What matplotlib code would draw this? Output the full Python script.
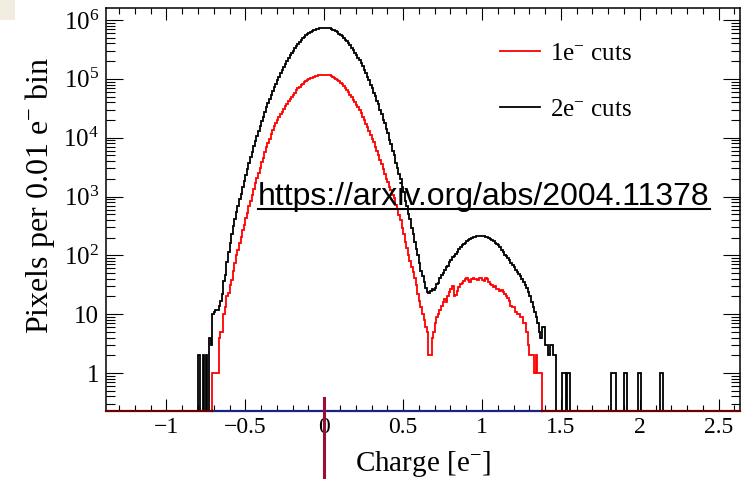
import numpy as np
import matplotlib
matplotlib.use("Agg")
import matplotlib.pyplot as plt
from matplotlib.lines import Line2D
from matplotlib.patches import Rectangle
from matplotlib.ticker import FixedLocator, MultipleLocator, LogLocator, NullFormatter

plt.rcParams["font.family"] = ["Liberation Serif", "DejaVu Serif"]
plt.rcParams["mathtext.fontset"] = "custom"
plt.rcParams["mathtext.rm"] = "Liberation Serif"
plt.rcParams["mathtext.it"] = "Liberation Serif:italic"

# histogram data: counts per 0.01 e- bin,
# one row = ten bins = 0.1 e-
BIN = 0.01
red_start = -0.80
red_counts = [
    0, 0, 0, 0, 0, 0, 0, 0, 0, 1,
    1, 1, 1, 4, 5, 5, 10, 13, 20, 23,
    31, 38, 55, 75, 100, 125, 165, 205, 270, 330,
    430, 530, 680, 840, 1080, 1320, 1680, 2050, 2550, 3100,
    3800, 4600, 5700, 6900, 8200, 9600, 11500, 13300, 15600, 17700,
    20300, 22600, 25100, 27600, 31000, 33900, 38000, 41700, 46000, 50000,
    54000, 58500, 63500, 68800, 73500, 78300, 83000, 87300, 91400, 95300,
    98700, 101500, 105000, 108500, 111000, 113000, 114500, 115800, 116600, 117000,
    117000, 116500, 115500, 114000, 111500, 108500, 104500, 99500, 95500, 91000,
    85800, 80500, 75000, 69800, 64300, 59000, 53800, 48800, 44500, 40800,
    36400, 33000, 29000, 26000, 22800, 20000, 17400, 15000, 13000, 11000,
    9500, 8300, 7000, 6000, 5000, 4200, 3500, 2900, 2400, 2000,
    1750, 1450, 1280, 1070, 950, 720, 620, 490, 400, 290,
    230, 170, 135, 100, 80, 63, 52, 41, 31, 22,
    17, 13, 10, 8, 6, 5, 2, 2, 4, 5,
    7, 9, 10, 12, 14, 16, 18, 16, 20, 24,
    27, 30, 20, 21, 25, 29, 32, 34, 36, 40,
    42, 38, 35, 39, 41, 39, 40, 38, 41, 42,
    38, 37, 41, 39, 35, 32, 31, 29, 30, 27,
    27, 25, 26, 24, 22, 20, 19, 17, 14, 13,
    13, 11, 10, 10, 9, 9, 7, 7, 5, 3,
    2, 2, 2, 1, 2, 1, 1, 1, 0, 0,
]
black_start = -0.90
black_counts = [
    0, 0, 0, 0, 0, 0, 0, 0, 0, 0,
    2, 0, 0, 2, 0, 2, 0, 4, 3, 10,
    11, 12, 12, 14, 17, 22, 36, 46, 78, 115,
    165, 230, 310, 410, 540, 700, 900, 1120, 1450, 1850,
    2350, 2950, 3700, 4650, 5800, 7100, 8800, 10700, 13000, 15900,
    19000, 22800, 27200, 33000, 38500, 45000, 52500, 62000, 72000, 83000,
    95000, 109000, 126000, 144000, 161000, 179000, 203000, 225000, 252000, 274000,
    302000, 330000, 366000, 394000, 424000, 450000, 487000, 515000, 548000, 576000,
    605000, 629000, 650000, 672000, 686000, 698000, 716000, 732000, 738000, 744000,
    744000, 738000, 728000, 720000, 698000, 686000, 672000, 650000, 618000, 588000,
    565000, 535000, 497000, 461000, 432000, 402000, 370000, 340000, 310000, 280000,
    255000, 225000, 207000, 183000, 163000, 140000, 126000, 108000, 95000, 79000,
    71000, 58000, 52000, 41500, 37000, 29000, 25500, 20000, 17500, 14000,
    12000, 9000, 7900, 5900, 5000, 3700, 3100, 2400, 1950, 1450,
    1200, 840, 700, 500, 410, 290, 230, 170, 130, 100,
    75, 55, 45, 35, 28, 24, 23, 25, 27, 26,
    28, 33, 34, 41, 46, 50, 57, 63, 67, 77,
    84, 92, 98, 106, 116, 128, 137, 147, 154, 162,
    173, 183, 188, 196, 201, 209, 210, 214, 217, 215,
    213, 211, 208, 204, 196, 188, 181, 175, 164, 156,
    147, 137, 124, 116, 103, 97, 89, 83, 75, 69,
    63, 57, 52, 48, 44, 40, 35, 31, 28, 24,
    20, 16, 13, 11, 9, 7, 5, 4, 6, 6,
    3, 3, 2, 3, 3, 2, 2, 0, 0, 0,
    0, 1, 1, 0, 1, 1, 0, 0, 0, 0,
]
# isolated entries at high charge (black)
spike_edges = [1.82, 1.85, 1.90, 1.92, 1.99, 2.01, 2.13, 2.15]
spike_counts = [1, 0, 1, 0, 1, 0, 1]

xticks = [-1, -0.5, 0, 0.5, 1, 1.5, 2, 2.5]
xtick_labels = ["\u22121", "\u22120.5", "0", "0.5", "1", "1.5", "2", "2.5"]
yticks = [1, 10, 1e2, 1e3, 1e4, 1e5, 1e6]
ytick_labels = ["1", "10", r"$10^{2}$", r"$10^{3}$", r"$10^{4}$", r"$10^{5}$", r"$10^{6}$"]

FLOOR = 1e-3
W, H = 753, 479

red_edges = red_start + BIN * np.arange(len(red_counts) + 1)
black_edges = black_start + BIN * np.arange(len(black_counts) + 1)

fig = plt.figure(figsize=(W / 100, H / 100), dpi=100)
ax = fig.add_axes([106 / W, 1 - 411 / H, (740 - 106) / W, (411 - 8) / H])
ax.set_yscale("log")

ax.stairs(np.maximum(red_counts, FLOOR), red_edges, baseline=FLOOR,
          color="#ff0000", lw=1.3)
ax.stairs(np.maximum(black_counts, FLOOR), black_edges, baseline=FLOOR,
          color="black", lw=1.3)
ax.stairs(np.maximum(spike_counts, FLOOR), spike_edges, baseline=FLOOR,
          color="black", lw=1.3)

ax.set_xlim(-1.383, 2.635)
ax.set_ylim(0.226, 1.6e6)

# coloured baseline segments on the lower frame
nz = np.nonzero(red_counts)[0]
x_on, x_off = red_edges[nz[0]], red_edges[nz[-1] + 1]
ybot = ax.get_ylim()[0]
ax.plot([x_on, x_off], [ybot, ybot], color="#1a237e", lw=1.6, clip_on=False, zorder=5)
ax.plot([ax.get_xlim()[0], x_on], [ybot, ybot], color="#6b0000", lw=1.6,
        clip_on=False, zorder=5)
ax.plot([x_off, ax.get_xlim()[1]], [ybot, ybot], color="#6b0000", lw=1.6,
        clip_on=False, zorder=5)

ax.xaxis.set_major_locator(FixedLocator(xticks))
ax.set_xticklabels(xtick_labels)
ax.xaxis.set_minor_locator(MultipleLocator(0.1))
ax.yaxis.set_major_locator(FixedLocator(yticks))
ax.set_yticklabels(ytick_labels)
ax.yaxis.set_minor_locator(LogLocator(base=10, subs=np.arange(2, 10), numticks=20))
ax.yaxis.set_minor_formatter(NullFormatter())

ax.tick_params(axis="x", which="major", direction="in", length=8.5, width=0.8,
               top=True, labelsize=17, pad=4)
ax.tick_params(axis="x", which="minor", direction="in", length=4.3, width=0.8, top=True)
ax.tick_params(axis="y", which="major", direction="in", length=12, width=0.8,
               right=True, labelsize=18, pad=5)
ax.tick_params(axis="y", which="minor", direction="in", length=6.5, width=0.8, right=True)
for sp in ax.spines.values():
    sp.set_linewidth(1.1)

ax.set_xlabel(r"Charge [e$^{-}$]", fontsize=21, labelpad=8)
fig.text(40 / W, 1 - 195 / H, r"Pixels per 0.01 e$^{-}$ bin", rotation=90,
         ha="center", va="center", fontsize=23)

handles = [Line2D([], [], color="#ff0000", lw=1.3), Line2D([], [], color="black", lw=1.3)]
ax.legend(handles, [r"1e$^{-}$ cuts", r"2e$^{-}$ cuts"], loc="upper left",
          bbox_to_anchor=(500 / W, 1 - 42 / H), bbox_transform=fig.transFigure,
          frameon=False, fontsize=18, handlelength=1.6, handletextpad=0.4,
          labelspacing=1.35, borderpad=0, borderaxespad=0)

# overlay: link text with underline, beige corner, red marker line
url = fig.text(258 / W, 1 - 205 / H, "https://arxiv.org/abs/2004.11378",
               fontsize=23, family="Liberation Sans", va="baseline", ha="left")
fig.canvas.draw()
bb = url.get_window_extent().transformed(fig.transFigure.inverted())
fig.add_artist(Line2D([bb.x0, bb.x1], [1 - 209 / H, 1 - 209 / H],
                      transform=fig.transFigure, color="black", lw=1.5))

fig.add_artist(Rectangle((0, 1 - 20 / H), 15 / W, 20 / H, transform=fig.transFigure,
                         color="#f3ece1", lw=0))
fig.add_artist(Line2D([324 / W, 324 / W], [0, 1 - 398 / H], transform=fig.transFigure,
                      color="#9b1030", lw=2.2))

fig.savefig("out.png", dpi=100)
